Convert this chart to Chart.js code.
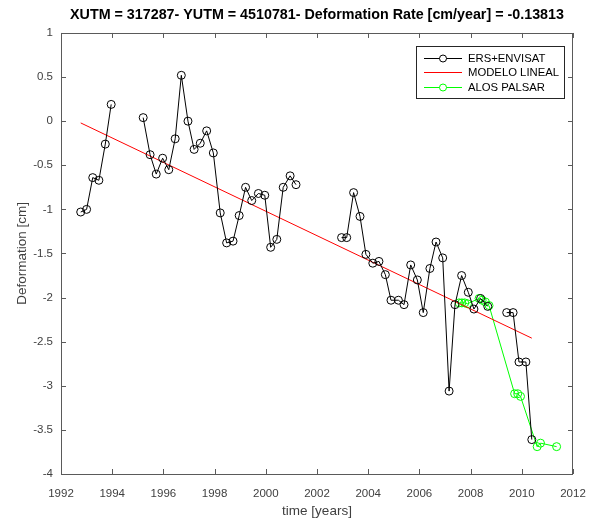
<!DOCTYPE html>
<html>
<head>
<meta charset="utf-8">
<script src="https://cdn.jsdelivr.net/npm/chart.js@4/dist/chart.umd.min.js"></script>
<style>
html,body{margin:0;padding:0;background:#fff;}
#wrap{position:relative;width:595px;height:519px;}
</style>
</head>
<body>
<div id="wrap"><canvas id="c" width="595" height="519"></canvas></div>
<script>
// ---- DATA ----
const ersYears = [1992.77,1993.00,1993.24,1993.48,1993.73,1993.96,1994.6,
  1995.21,1995.48,1995.72,1995.97,1996.21,1996.46,1996.70,1996.96,1997.20,1997.44,1997.69,1997.95,
  1998.22,1998.47,1998.72,1998.96,1999.21,1999.45,1999.71,1999.96,2000.19,2000.43,2000.68,2000.95,2001.18,2002.0,
  2002.96,2003.16,2003.43,2003.68,2003.91,2004.18,2004.42,2004.67,2004.89,2005.18,2005.40,2005.66,2005.92,
  2006.15,2006.41,2006.65,2006.91,2007.16,2007.39,2007.65,2007.91,2008.13,2008.39,2008.67,2009.0,
  2009.41,2009.66,2009.89,2010.16,2010.39];
const ersDef = [-1.03,-1.00,-0.64,-0.67,-0.26,0.19,null,
  0.04,-0.38,-0.60,-0.42,-0.55,-0.20,0.52,0.00,-0.32,-0.25,-0.11,-0.36,
  -1.04,-1.38,-1.36,-1.07,-0.75,-0.90,-0.82,-0.84,-1.43,-1.34,-0.75,-0.62,-0.72,null,
  -1.32,-1.32,-0.81,-1.08,-1.51,-1.61,-1.59,-1.74,-2.03,-2.03,-2.08,-1.63,-1.80,
  -2.17,-1.67,-1.37,-1.55,-3.06,-2.08,-1.75,-1.94,-2.13,-2.01,-2.10,null,
  -2.17,-2.17,-2.73,-2.73,-3.61];
const modelYears = [1992.77, 2010.39];
const modelDef = [-0.02, -2.46];
const alosYears = [2007.55,2007.66,2007.77,2007.88,2008.33,2008.45,2008.58,2008.72,
  2009.72,2009.84,2009.95,2010.60,2010.73,2011.36];
const alosDef = [-2.06,-2.06,-2.06,-2.07,-2.01,-2.03,-2.05,-2.09,
  -3.09,-3.09,-3.12,-3.69,-3.65,-3.69];
const xTicks = [1992,1994,1996,1998,2000,2002,2004,2006,2008,2010,2012];
const yTicks = [1,0.5,0,-0.5,-1,-1.5,-2,-2.5,-3,-3.5,-4];
const seriesNames = ['ERS+ENVISAT','MODELO LINEAL','ALOS PALSAR'];
const titleText = 'XUTM = 317287- YUTM = 4510781- Deformation Rate [cm/year] = -0.13813';

const pts = (xs, ys) => xs.map((x,i)=>({x:x, y:ys[i]}));
const AXIS = '#5a5a5a', TXT = '#404040';
const FONT = "'Liberation Sans', Arial, Helvetica, sans-serif";

const boxPlugin = {
  id:'box',
  afterDatasetsDraw(chart){
    const {ctx, chartArea:a, scales:{x,y}} = chart;
    ctx.save();
    ctx.strokeStyle = AXIS; ctx.lineWidth = 1;
    ctx.beginPath();
    ctx.rect(Math.round(a.left)+0.5, Math.round(a.top)+0.5, Math.round(a.right-a.left)-1, Math.round(a.bottom-a.top));
    ctx.stroke();
    const tl = 5;
    ctx.beginPath();
    xTicks.forEach(v=>{
      const px = Math.round(x.getPixelForValue(v))+0.5;
      ctx.moveTo(px, a.bottom); ctx.lineTo(px, a.bottom - tl);
      ctx.moveTo(px, a.top); ctx.lineTo(px, a.top + tl);
    });
    yTicks.forEach(v=>{
      const py = Math.round(y.getPixelForValue(v))+0.5;
      ctx.moveTo(a.left, py); ctx.lineTo(a.left + tl, py);
      ctx.moveTo(a.right, py); ctx.lineTo(a.right - tl, py);
    });
    ctx.stroke();
    // legend
    const lx = 416.5, ly = 46.5, lw = 148, lh = 52;
    ctx.fillStyle = '#fff'; ctx.fillRect(lx, ly, lw, lh);
    ctx.strokeStyle = '#262626'; ctx.strokeRect(lx, ly, lw, lh);
    const cols = ['#000000','#ff0000','#00ff00'];
    const marks = [true,false,true];
    ctx.font = '11.3px ' + FONT; ctx.textBaseline = 'middle'; ctx.textAlign = 'left';
    seriesNames.forEach((n,i)=>{
      const yy = 57.5 + i*14.5;
      const ly2 = Math.round(yy) + 0.5;
      ctx.strokeStyle = cols[i]; ctx.lineWidth = 1;
      ctx.beginPath(); ctx.moveTo(424, ly2); ctx.lineTo(462, ly2); ctx.stroke();
      if (marks[i]) { ctx.beginPath(); ctx.arc(443, ly2, 3.5, 0, Math.PI*2); ctx.fillStyle='#fff'; ctx.fill(); ctx.stroke(); }
      ctx.fillStyle = '#000'; ctx.fillText(n, 468, ly2);
    });
    ctx.restore();
  }
};

new Chart(document.getElementById('c'), {
  type:'line',
  data:{
    datasets:[
      {label:seriesNames[0], data:pts(ersYears, ersDef), borderColor:'#000', borderWidth:1,
       pointRadius:4, pointBorderColor:'#000', pointBackgroundColor:'rgba(0,0,0,0)', pointBorderWidth:1, spanGaps:false, tension:0},
      {label:seriesNames[1], data:pts(modelYears, modelDef), borderColor:'#ff0000', borderWidth:1, pointRadius:0, tension:0},
      {label:seriesNames[2], data:pts(alosYears, alosDef), borderColor:'#00ff00', borderWidth:1,
       pointRadius:4, pointBorderColor:'#00ff00', pointBackgroundColor:'rgba(0,0,0,0)', pointBorderWidth:1, tension:0}
    ]
  },
  options:{
    responsive:false, animation:false, devicePixelRatio:1,
    layout:{padding:{left:0,right:22,top:0,bottom:0}},
    plugins:{
      legend:{display:false}, tooltip:{enabled:false},
      title:{display:true, fullSize:false, text:titleText, color:'#000', font:{family:FONT, size:14.3, weight:'bold', lineHeight:1.2}, padding:{top:6.4,bottom:9.4}}
    },
    scales:{
      x:{type:'linear', min:1992, max:2012,
        afterBuildTicks(s){ s.ticks = xTicks.map(v=>({value:v})); },
        afterFit(s){ s.height = 45; s.paddingLeft = 0; s.paddingRight = 0; },
        grid:{display:false, drawTicks:false}, border:{display:false},
        ticks:{color:TXT, font:{family:FONT,size:11.5}, padding:13, maxRotation:0, autoSkip:false, callback:v=>String(v)},
        title:{display:true, text:'time [years]', color:TXT, font:{family:FONT,size:13.5,lineHeight:1}, padding:{top:0,bottom:1}}
      },
      y:{type:'linear', min:-4, max:1,
        afterBuildTicks(s){ s.ticks = yTicks.map(v=>({value:v})); },
        afterFit(s){ s.width = 61; s.paddingTop = 0; s.paddingBottom = 0; },
        grid:{display:false, drawTicks:false}, border:{display:false},
        ticks:{color:TXT, font:{family:FONT,size:11.5}, padding:8, autoSkip:false, callback:v=>String(v)},
        title:{display:true, text:'Deformation [cm]', color:TXT, font:{family:FONT,size:13.5}, padding:{top:14,bottom:0}}
      }
    }
  },
  plugins:[boxPlugin]
});
</script>
</body>
</html>
